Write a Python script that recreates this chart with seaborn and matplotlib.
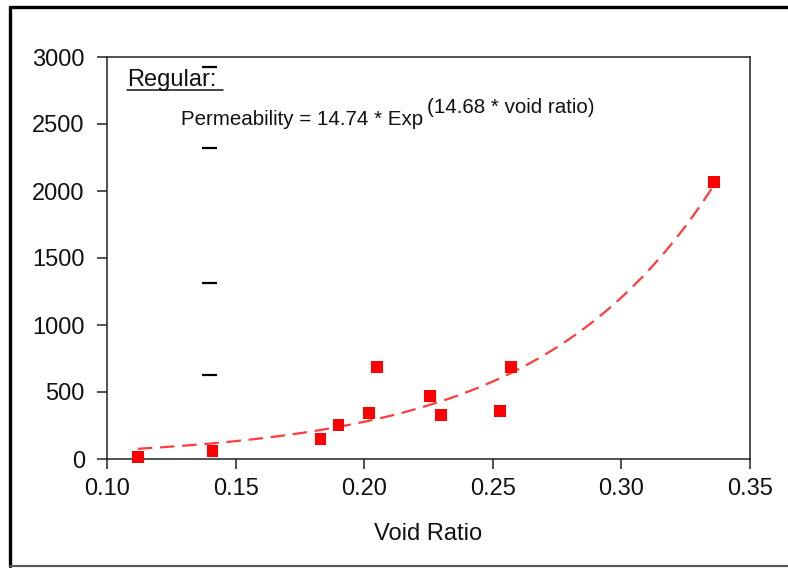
import numpy as np
import pandas as pd
import matplotlib
matplotlib.use("Agg")
import matplotlib.pyplot as plt
from matplotlib.lines import Line2D
import seaborn as sns

# ---- data ----
void_ratio = [0.112, 0.141, 0.183, 0.190, 0.202, 0.205, 0.2256, 0.230, 0.2528, 0.257, 0.336]
permeability = [15, 60, 150, 253, 343, 685, 469, 328, 357, 685, 2070]
fit_a = 14.74
fit_b = 14.68
fit_range = [0.112, 0.336]
x_ticks = [0.10, 0.15, 0.20, 0.25, 0.30, 0.35]
x_tick_labels = ["0.10", "0.15", "0.20", "0.25", "0.30", "0.35"]
y_ticks = [0, 500, 1000, 1500, 2000, 2500, 3000]
y_tick_labels = ["0", "500", "1000", "1500", "2000", "2500", "3000"]
stray_marks_y = [2926, 2323, 1310, 625]
stray_marks_x = [0.1369, 0.1428]

sns.set_theme(style="ticks")
plt.rcParams["font.family"] = ["Liberation Sans", "DejaVu Sans"]

fig = plt.figure(figsize=(7.88, 5.68), dpi=100)
ax = fig.add_axes([107 / 788, 1 - 459 / 568, (750 - 107) / 788, (459 - 57) / 568])

df = pd.DataFrame({"Void Ratio": void_ratio, "Permeability": permeability})
fx = np.linspace(fit_range[0], fit_range[1], 200)
fit_df = pd.DataFrame({"x": fx, "y": fit_a * np.exp(fit_b * fx)})

sns.lineplot(data=fit_df, x="x", y="y", ax=ax, color="#FF3B3B", linewidth=1.6,
             linestyle=(0, (6.5, 3.5)), zorder=2)
sns.scatterplot(data=df, x="Void Ratio", y="Permeability", ax=ax, marker="s",
                s=72, color="#FF0000", edgecolor="none", linewidth=0, zorder=3,
                clip_on=False)

ax.hlines(stray_marks_y, stray_marks_x[0], stray_marks_x[1], color="black", linewidth=1.6, zorder=4)

ax.set_xlim(0.10, 0.35)
ax.set_ylim(0, 3000)
ax.set_xticks(x_ticks)
ax.set_xticklabels(x_tick_labels)
ax.set_yticks(y_ticks)
ax.set_yticklabels(y_tick_labels)
ax.tick_params(axis="both", direction="out", length=7, width=1.1, color="#222222",
               labelsize=17, labelcolor="#111111")
ax.tick_params(axis="x", pad=7)
ax.tick_params(axis="y", pad=9)
for sp in ax.spines.values():
    sp.set_visible(True)
    sp.set_color("#222222")
    sp.set_linewidth(1.1)

ax.set_xlabel("Void Ratio", fontsize=17, labelpad=16, color="#111111")
ax.set_ylabel("")

ax.text(0.031, 0.928, "Regular:", transform=ax.transAxes, fontsize=17,
        ha="left", va="baseline", color="#111111")
ax.add_line(Line2D([0.031, 0.180], [0.917, 0.917], transform=ax.transAxes,
                   color="#111111", linewidth=1.1))

t1 = ax.text(0.115, 0.831, "Permeability = 14.74 * Exp", transform=ax.transAxes,
             fontsize=14.8, ha="left", va="baseline", color="#111111")
ax.annotate("(14.68 * void ratio)", xy=(1, 0), xycoords=t1, xytext=(3, 8.6),
            textcoords="offset points", fontsize=14.8, ha="left", va="bottom",
            color="#111111")

# outer frame
fig.add_artist(Line2D([10 / 788, 1.0], [1 - 6.5 / 568, 1 - 6.5 / 568], transform=fig.transFigure,
                      color="black", linewidth=2.4))
fig.add_artist(Line2D([10 / 788, 10 / 788], [1 - 566 / 568, 1 - 6.5 / 568], transform=fig.transFigure,
                      color="black", linewidth=2.4))
fig.add_artist(Line2D([10 / 788, 1.0], [1 - 566 / 568, 1 - 566 / 568], transform=fig.transFigure,
                      color="#555555", linewidth=1.5))

fig.savefig("out.png", dpi=100)
